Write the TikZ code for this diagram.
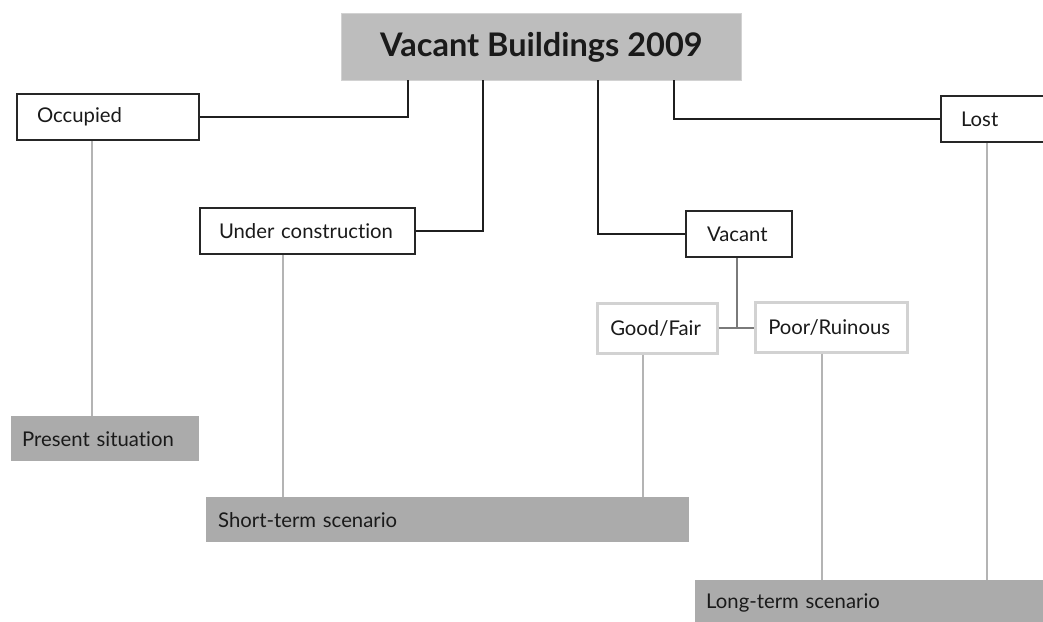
\documentclass[tikz,border=0pt]{standalone}
\usepackage{fontspec}
\setmainfont{Lato}[Ligatures=NoCommon]
\definecolor{txt}{HTML}{1A1A1A}
\definecolor{titlefill}{HTML}{BDBDBD}
\definecolor{scenfill}{HTML}{ABABAB}
\definecolor{thinline}{HTML}{B4B4B4}
\definecolor{lightborder}{HTML}{D2D2D2}
\definecolor{midline}{HTML}{7A7A7A}
\tikzset{
  every node/.style={text=txt, font=\fontsize{20.3}{23}\selectfont},
  catbox/.style={draw=black!85, line width=2pt, fill=white, anchor=north west, align=left, inner ysep=0pt},
  condbox/.style={draw=lightborder, line width=2.5pt, fill=white, anchor=north west, align=left, inner ysep=0pt},
  scenbox/.style={fill=scenfill, anchor=north west, align=left, inner ysep=0pt},
  branch/.style={line width=2.6pt, draw=black!88},
  scenline/.style={line width=1.4pt, draw=thinline},
  subline/.style={line width=1.6pt, draw=midline}
}
\begin{document}
\begin{tikzpicture}[x=1pt, y=-1pt]
\useasboundingbox (0,0) rectangle (1043,621);
% title
\node[fill=titlefill, draw=lightborder, line width=0.8pt, anchor=north west, minimum width=400pt, minimum height=67pt, font=\fontsize{32.5}{36}\selectfont\bfseries] (title) at (341,13) {Vacant Buildings 2009};
% category boxes
\node[catbox, inner xsep=20pt, text width=142pt, minimum height=46pt] (occ) at (16,93) {Occupied};
\node[catbox, inner xsep=19pt, text width=177pt, minimum height=46pt] (uc) at (199,207) {Under construction};
\node[catbox, inner xsep=21pt, text width=64pt, minimum height=46pt] (vac) at (685,210) {Vacant};
\node[catbox, inner xsep=20pt, text width=70pt, minimum height=46pt] (lost) at (940,95) {Lost};
% condition boxes
\node[condbox, inner xsep=13pt, text width=94pt, minimum height=50pt] (good) at (596,302) {Good/Fair};
\node[condbox, inner xsep=13pt, text width=126pt, minimum height=50pt] (poor) at (754,301) {Poor/Ruinous};
% scenario boxes
\node[scenbox, inner xsep=11pt, text width=166pt, minimum height=45pt] (pres) at (11,416) {Present situation};
\node[scenbox, inner xsep=12pt, text width=459pt, minimum height=45pt] (short) at (206,497) {Short-term scenario};
\node[scenbox, inner xsep=11pt, text width=338pt, minimum height=45pt] (long) at (695,580) {Long-term scenario};
% anchor coordinates on title bottom
\coordinate (t1) at (408,80);
\coordinate (t2) at (483,80);
\coordinate (t3) at (598,80);
\coordinate (t4) at (674,80);
% thin scenario lines
\draw[scenline] (occ.south -| 92,0) -- (pres.north -| 92,0);
\draw[scenline] (uc.south -| 283,0) -- (short.north -| 283,0);
\draw[scenline] (good.south -| 643,0) -- (short.north -| 643,0);
\draw[scenline] (poor.south -| 822,0) -- (long.north -| 822,0);
\draw[scenline] (lost.south -| 987,0) -- (long.north -| 987,0);
% branches
\draw[branch] (t1) |- (occ.east);
\draw[branch] (t2) |- (uc.east);
\draw[branch] (t3) |- (vac.west);
\draw[branch] (t4) |- (lost.west);
% vacant split
\coordinate (split) at (737,328);
\draw[subline] (vac.south -| split) -- (split);
\draw[subline] (good.east |- split) -- (poor.west |- split);
\end{tikzpicture}
\end{document}
